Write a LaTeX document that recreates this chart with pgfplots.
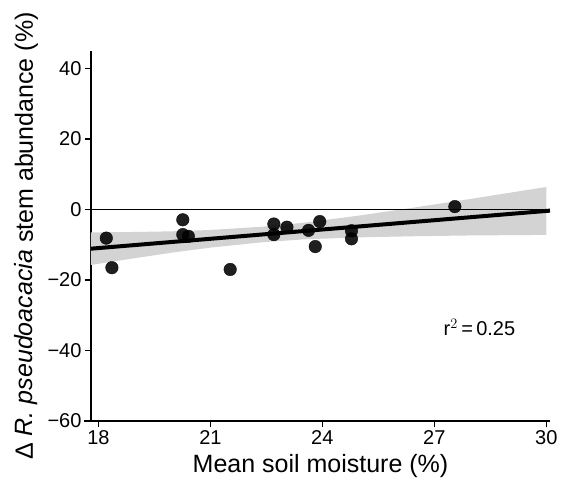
\documentclass[border=0pt]{standalone}
\usepackage{pgfplots}
\pgfplotsset{compat=1.18}
\usepackage{fontspec}
\setmainfont{Liberation Sans}
\definecolor{bandgray}{RGB}{211,211,211}
\begin{document}
\begin{tikzpicture}
\begin{axis}[
  scale only axis,
  width=459pt, height=370pt,
  xmin=17.8, xmax=30.1, ymin=-60, ymax=45,
  axis x line*=bottom, axis y line*=left,
  axis line style={line width=1.4pt, -},
  xtick={18,21,24,27,30}, ytick={-60,-40,-20,0,20,40},
  yticklabels={−60,−40,−20,0,20,40},
  tick align=outside, major tick length=6pt,
  tick style={line width=1.4pt, black},
  /pgf/number format/assume math mode=true,
  ticklabel style={font=\fontsize{20}{23}\selectfont},
  xlabel={Mean soil moisture (\%)},
  ylabel={Δ \textit{R. pseudoacacia} stem abundance (\%)},
  label style={font=\fontsize{25}{28}\selectfont},
  ylabel style={at={(rel axis cs:0,0.5)}, anchor=base, yshift=58pt},
  xlabel style={at={(rel axis cs:0.5,0)}, anchor=base, yshift=-51pt},
  clip=false,
]
\addplot[fill=bandgray, draw=none] coordinates {
 (17.8,-6.5) (19,-6.35) (20,-6.17) (21,-5.79) (22.4,-4.86) (23.5,-3.75) (25,-1.68) (26.5,0.64) (28,3.06) (30,6.41)
 (30,-7.19) (28,-7.34) (26.5,-7.56) (25,-7.88) (23.5,-8.45) (22.4,-9.26) (21,-10.79) (20,-12.17) (19,-13.75) (17.8,-15.7)
} -- cycle;
\addplot[black, line width=1.7pt] coordinates {(17.8,0) (30.1,0)};
\addplot[black, line width=4pt] coordinates {(17.8,-11.1) (30.1,-0.3)};
\addplot[only marks, mark=*, mark size=6.3pt, mark options={fill=black, draw=none, opacity=0.88}] coordinates {
 (18.21,-8.1) (18.36,-16.5) (20.26,-2.9) (20.26,-7.1) (20.41,-7.6) (21.53,-17.0)
 (22.70,-4.1) (22.70,-7.1) (23.05,-5.0) (23.63,-5.9) (23.93,-3.4) (23.81,-10.5)
 (24.78,-6.0) (24.78,-8.3) (27.55,0.85)
};
\node[font=\fontsize{20}{23}\selectfont] at (axis cs:28.21,-33.4) {r$^{2}$\,=\,0.25};
\draw[line width=1.4pt] (rel axis cs:0,0) -- ([xshift=-7pt]rel axis cs:0,0);
\coordinate (O) at (rel axis cs:0,0);
\end{axis}
\pgfresetboundingbox
\path[use as bounding box] ([xshift=-91pt,yshift=-61pt]O) rectangle ([xshift=470pt,yshift=421pt]O);
\end{tikzpicture}
\end{document}
